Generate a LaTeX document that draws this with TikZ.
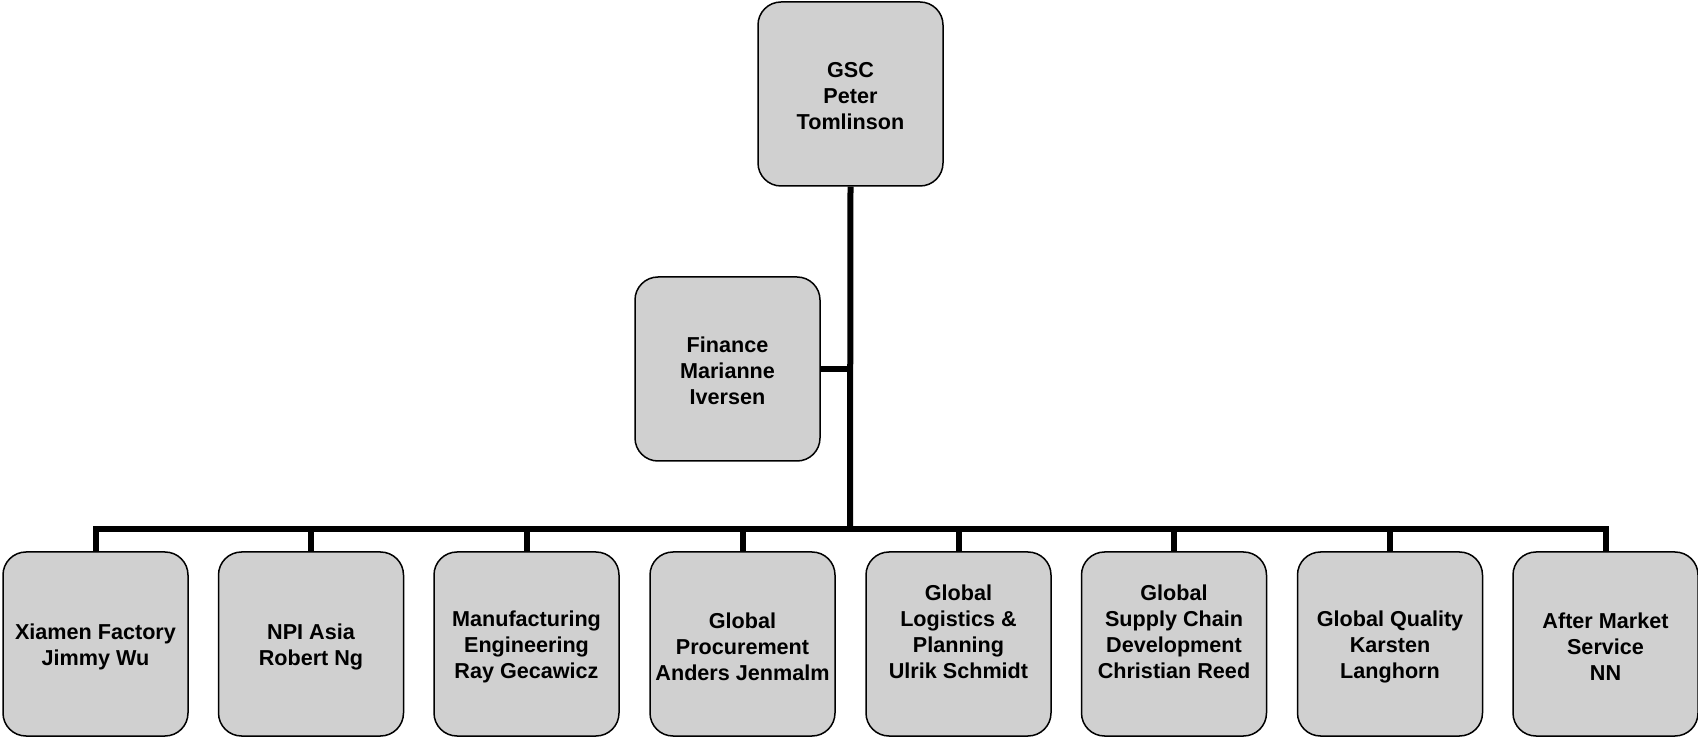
\documentclass[tikz,border=0pt]{standalone}
\usepackage{fontspec}
\setmainfont{Liberation Sans}
\definecolor{boxgray}{RGB}{208,208,208}
\begin{document}
\begin{tikzpicture}[x=0.5pt,y=-0.5pt,
  orgbox/.style={draw=black, line width=0.75pt, fill=boxgray, rectangle,
    rounded corners=11.5pt, minimum width=92.5pt, minimum height=92pt,
    inner sep=0pt},
  boxtext/.style={inner sep=0pt, align=center,
    font=\fontsize{10.8}{13}\selectfont\bfseries},
  link/.style={line width=3pt, draw=black}]
\useasboundingbox (0,0) rectangle (1698,737);
\coordinate (bus) at (850,529);
\node[orgbox] (gsc) at (850.5,94) {};
\node[orgbox] (fin) at (727.5,369) {};
\node[orgbox] (b1) at (95.5,644) {};
\node[orgbox] (b2) at (311,644) {};
\node[orgbox] (b3) at (526.5,644) {};
\node[orgbox] (b4) at (742.5,644) {};
\node[orgbox] (b5) at (958.5,644) {};
\node[orgbox] (b6) at (1174,644) {};
\node[orgbox] (b7) at (1390,644) {};
\node[orgbox] (b8) at (1605.5,644) {};
\node[boxtext] (gsct) at ([yshift=-0.8pt]gsc.center) {GSC\\Peter\\Tomlinson};
\node[boxtext] (fint) at ([yshift=-0.8pt]fin.center) {Finance\\Marianne\\Iversen};
\node[boxtext] (b1t) at ([yshift=-1.7pt]b1.center) {Xiamen Factory\\Jimmy Wu};
\node[boxtext] (b2t) at ([yshift=-1.7pt]b2.center) {NPI Asia\\Robert Ng};
\node[boxtext] (b3t) at ([yshift=-1.4pt]b3.center) {Manufacturing\\Engineering\\Ray Gecawicz};
\node[boxtext] (b4t) at ([yshift=-1.4pt]b4.center) {Global\\Procurement\\Anders Jenmalm};
\node[boxtext] (b5t) at ([yshift=6pt]b5.center) {Global\\Logistics \&\\Planning\\Ulrik Schmidt};
\node[boxtext] (b6t) at ([yshift=6pt]b6.center) {Global\\Supply Chain\\Development\\Christian Reed};
\node[boxtext] (b7t) at ([yshift=-1.4pt]b7.center) {Global Quality\\Karsten\\Langhorn};
\node[boxtext] (b8t) at ([yshift=-1.4pt]b8.center) {After Market\\Service\\NN};
\draw[link] (gsc.south) -- (bus);
\draw[link] (fin.east) -- (fin.east -| bus);
\foreach \b in {b1,b2,b3,b4,b5,b6,b7,b8}{
  \draw[link] (bus) -| (\b.north);
}
\end{tikzpicture}
\end{document}
